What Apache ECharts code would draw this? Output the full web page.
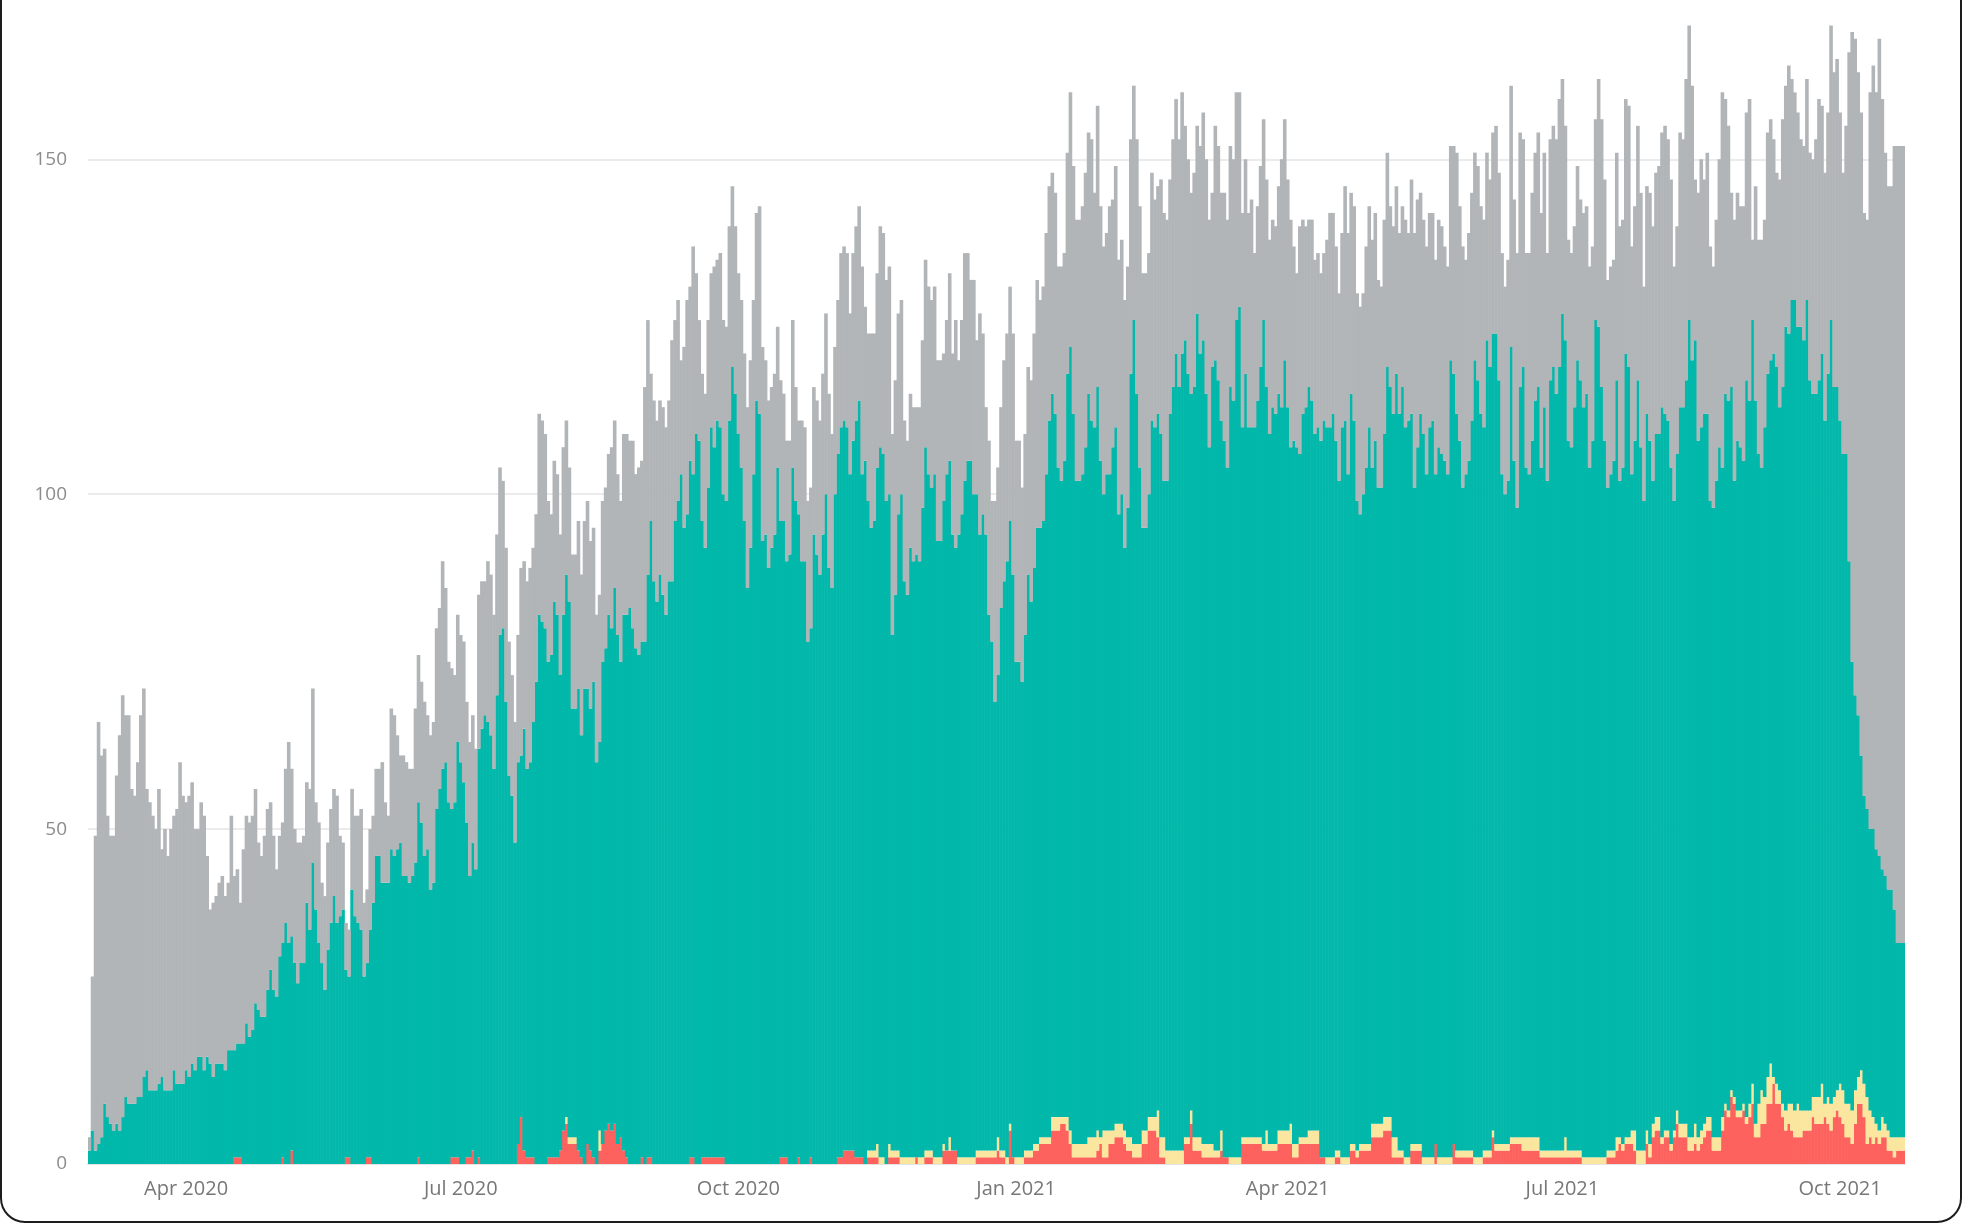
<!DOCTYPE html>
<html>
<head>
<meta charset="utf-8">
<title>Daily stacked counts</title>
<script src="https://cdn.jsdelivr.net/npm/echarts@6/dist/echarts.min.js"></script>
<style>
  html, body { margin: 0; padding: 0; background: #fff; }
  #chart { width: 1963px; height: 1225px; }
</style>
</head>
<body>
<div id="chart"></div>
<script>
// first day on the axis, one bar per day from here
var startDay = '2020-02-29';

// date ticks and their labels
var tickDays = ['2020-04-01', '2020-07-01', '2020-10-01', '2021-01-01', '2021-04-01', '2021-07-01', '2021-10-01'];
var tickLabels = ['Apr 2020', 'Jul 2020', 'Oct 2020', 'Jan 2021', 'Apr 2021', 'Jul 2021', 'Oct 2021'];

// bottom band (red)
var redValues = [
  0,0,0,0,0,0,0,0,0,0, 0,0,0,0,0,0,0,0,0,0, 0,0,0,0,0,0,0,0,0,0, 0,0,0,0,0,0,0,0,0,0,
  0,0,0,0,0,0,0,0,1,1, 1,0,0,0,0,0,0,0,0,0, 0,0,0,0,1,0,0,2,0,0, 0,0,0,0,0,0,0,0,0,0,
  0,0,0,0,0,1,1,0,0,0, 0,0,1,1,0,0,0,0,0,0, 0,0,0,0,0,0,0,0,0,1, 0,0,0,0,0,0,0,0,0,0,
  1,1,1,0,0,1,1,2,0,1, 0,0,0,0,0,0,0,0,0,0, 0,0,3,7,2,1,1,1,0,0, 0,0,1,1,1,1,2,5,6,3,
  3,3,2,1,0,3,2,1,0,2, 3,5,6,5,6,3,4,2,1,0, 0,0,0,1,0,1,1,0,0,0, 0,0,0,0,0,0,0,0,0,1,
  1,0,0,1,1,1,1,1,1,1, 1,0,0,0,0,0,0,0,0,0, 0,0,0,0,0,0,0,0,0,1, 1,1,0,0,0,1,0,0,0,1,
  0,0,0,0,0,0,0,0,1,1, 2,2,2,2,1,1,1,0,1,1, 1,1,0,0,0,1,1,1,1,0, 0,0,0,0,1,0,0,1,1,1,
  0,0,0,2,2,2,2,2,0,0, 0,0,0,0,1,1,1,1,1,1, 1,2,1,1,0,5,1,0,0,0, 1,1,1,2,2,3,3,3,3,5,
  5,5,6,6,5,3,1,1,1,1, 1,1,1,1,2,3,1,1,3,3, 4,4,4,3,2,2,1,1,1,3, 3,5,5,5,4,1,1,0,0,0,
  0,0,0,3,3,6,2,2,2,1, 1,1,1,1,1,2,1,1,0,0, 0,0,3,3,3,3,3,3,3,2, 2,2,2,2,3,3,3,3,3,1,
  1,3,3,3,3,3,3,3,1,1, 0,0,0,1,1,0,0,0,2,2, 1,2,2,2,2,4,4,4,4,5, 5,5,1,1,1,1,0,0,2,2,
  2,2,0,0,0,0,3,0,0,0, 0,0,3,1,1,1,1,1,1,0, 0,0,1,1,1,4,2,2,2,2, 2,3,3,3,3,2,2,2,2,2,
  2,1,1,1,1,1,1,1,1,1, 1,1,1,1,1,0,0,0,0,0, 0,0,0,1,1,1,2,3,2,3, 3,3,2,0,0,0,3,1,4,5,
  5,3,4,4,2,4,6,4,4,4, 2,2,3,2,3,4,5,5,2,2, 2,5,8,7,10,9,7,7,8,6, 7,9,4,4,6,6,9,9,12,9,
  9,7,5,6,5,4,4,4,5,5, 5,7,6,6,6,7,6,5,7,8, 7,6,4,4,3,6,9,9,7,3, 4,3,4,3,4,4,2,2,1,2,
  2,2
];

// second band (yellow)
var yellowValues = [
  0,0,0,0,0,0,0,0,0,0, 0,0,0,0,0,0,0,0,0,0, 0,0,0,0,0,0,0,0,0,0, 0,0,0,0,0,0,0,0,0,0,
  0,0,0,0,0,0,0,0,0,0, 0,0,0,0,0,0,0,0,0,0, 0,0,0,0,0,0,0,0,0,0, 0,0,0,0,0,0,0,0,0,0,
  0,0,0,0,0,0,0,0,0,0, 0,0,0,0,0,0,0,0,0,0, 0,0,0,0,0,0,0,0,0,0, 0,0,0,0,0,0,0,0,0,0,
  0,0,0,0,0,0,0,0,0,0, 0,0,0,0,0,0,0,0,0,0, 0,0,0,0,0,0,0,0,0,0, 0,0,0,0,0,0,0,0,1,1,
  1,1,0,0,0,0,0,0,0,3, 0,0,0,0,0,0,0,0,0,0, 0,0,0,0,0,0,0,0,0,0, 0,0,0,0,0,0,0,0,0,0,
  0,0,0,0,0,0,0,0,0,0, 0,0,0,0,0,0,0,0,0,0, 0,0,0,0,0,0,0,0,0,0, 0,0,0,0,0,0,0,0,0,0,
  0,0,0,0,0,0,0,0,0,0, 0,0,0,0,0,0,0,0,1,1, 1,2,1,1,0,2,1,1,1,1, 1,1,1,1,0,1,1,1,1,1,
  1,1,1,1,0,2,0,0,1,1, 1,1,1,1,1,1,1,1,1,1, 1,2,1,1,1,1,0,1,1,1, 1,1,1,1,1,1,1,1,1,2,
  2,2,1,1,2,2,2,2,2,2, 2,3,3,3,3,1,4,4,2,2, 2,2,2,2,2,2,2,2,2,2, 2,2,2,2,4,3,3,2,2,2,
  2,2,2,1,1,2,2,2,2,2, 2,2,2,1,1,3,0,0,1,1, 1,1,1,1,1,1,1,1,1,1, 3,1,1,1,2,2,2,2,3,2,
  2,1,1,1,2,2,2,2,0,0, 1,1,1,1,1,1,1,1,1,1, 1,1,1,1,1,2,2,2,2,2, 2,2,3,3,1,1,1,1,1,1,
  1,1,1,1,1,1,0,1,1,1, 1,1,0,1,1,1,1,1,1,1, 1,1,1,1,1,1,1,1,1,1, 1,1,1,1,1,2,2,2,2,2,
  2,1,1,1,1,1,1,1,1,3, 1,1,1,1,1,1,1,1,1,1, 1,1,1,1,1,1,2,1,1,1, 1,2,3,2,2,2,2,2,2,2,
  2,1,1,1,1,1,2,2,2,2, 2,2,3,2,2,2,2,2,2,2, 2,2,1,1,1,1,1,1,1,1, 2,3,2,5,5,4,4,6,1,3,
  2,2,3,3,4,4,5,4,3,3, 3,3,4,4,6,2,4,4,3,3, 5,5,5,5,5,5,4,5,5,7, 4,4,2,2,3,2,3,2,3,2,
  2,2
];

// main band (teal)
var tealValues = [
  2,5,2,3,4,9,7,6,5,6, 5,7,10,9,9,9,10,10,13,14, 11,11,11,12,13,11,11,11,14,12, 12,12,14,13,15,14,16,16,14,16,
  15,13,15,15,15,14,17,17,16,17, 17,18,21,19,20,24,23,22,22,26, 29,26,25,31,32,36,33,32,30,27, 30,30,39,35,45,38,33,30,26,32,
  36,40,36,37,38,28,27,41,37,36, 35,28,29,34,39,46,46,42,42,42, 47,46,47,48,43,43,42,43,45,53, 51,46,47,41,42,53,56,59,60,54,
  52,53,62,60,57,50,42,46,44,61, 65,67,66,64,59,70,79,80,69,58, 55,48,57,54,63,58,59,65,72,82, 81,80,74,75,83,81,71,77,81,80,
  64,64,69,63,71,68,66,71,60,58, 72,72,76,75,80,76,71,80,81,83, 80,77,76,77,78,87,95,87,84,88, 85,82,87,87,96,99,103,95,97,104,
  102,109,108,95,91,100,109,106,110,109, 99,99,111,119,115,109,104,96,86,92, 103,114,112,93,94,89,92,94,104,95, 95,89,91,104,99,96,90,90,78,79,
  94,91,88,94,100,89,86,100,105,109, 109,108,101,106,110,113,102,105,97,93, 94,101,106,105,99,97,77,83,95,99, 86,84,91,89,90,89,97,105,101,99,
  102,92,92,96,101,101,92,90,93,96, 101,104,104,99,98,92,95,92,80,76, 67,69,81,85,89,90,87,74,74,71, 77,86,82,86,92,91,92,99,107,108,
  105,97,95,98,111,117,109,99,99,100, 104,111,107,106,111,101,95,98,98,102, 104,91,94,87,94,114,123,112,101,90, 90,93,104,103,104,105,98,100,110,114,
  119,114,119,119,114,107,112,123,117,120, 112,104,116,118,115,106,107,103,115,113, 125,127,106,114,106,106,106,110,115,123, 111,106,110,109,110,108,115,108,101,105,
  104,102,108,109,111,109,104,105,107,110, 109,109,111,106,100,109,110,102,112,108, 97,94,97,101,107,98,102,95,95,102, 112,109,108,114,110,114,109,110,109,98,
  104,109,108,102,109,110,100,106,105,104, 102,119,115,110,106,99,101,103,109,119, 116,111,108,121,117,119,121,114,100,97, 99,118,101,94,112,115,100,99,104,110,
  112,102,111,100,115,117,113,117,125,119, 106,105,111,118,115,112,114,103,107,125, 124,115,107,99,101,103,113,98,101,117, 115,98,103,115,105,97,107,105,96,102,
  102,109,107,106,101,94,98,107,107,111, 122,116,117,104,105,106,105,92,94,98, 103,97,106,106,105,92,100,99,96,110, 105,114,108,97,93,100,105,105,108,107,
  102,107,117,115,120,121,116,117,115,121, 109,105,105,107,109,102,108,117,106,105, 99,95,97,81,67,59,54,47,43,43, 42,43,41,41,37,37,36,37,34,29,
  29,29
];

// top band (grey)
var greyValues = [
  2,23,47,63,57,53,45,43,44,52, 59,63,57,58,47,46,50,57,58,42, 43,41,39,44,34,39,35,39,38,41, 48,43,40,42,42,36,34,38,38,30,
  23,26,25,27,28,26,25,35,26,26, 21,29,31,32,32,32,25,24,27,27, 25,23,19,18,18,23,30,25,20,21, 18,19,18,21,26,16,18,12,14,16,
  17,16,19,12,10,7,7,15,15,16, 18,11,11,15,13,13,13,18,12,10, 21,21,17,13,18,17,17,16,23,22, 21,23,20,23,24,27,27,31,26,21,
  21,19,19,19,21,18,20,19,18,23, 22,20,24,24,23,24,25,22,23,20, 18,18,19,28,25,28,29,26,25,30, 30,29,24,21,21,21,21,25,23,20,
  23,23,25,24,25,28,25,23,22,22, 24,24,24,27,25,24,24,27,27,25, 28,26,28,27,38,38,22,27,27,26, 28,28,27,36,30,30,17,27,32,26,
  34,24,18,22,23,25,23,27,24,26, 26,26,29,27,25,24,25,25,27,28, 26,28,31,29,26,25,24,24,21,21, 19,18,17,22,17,14,21,20,21,21,
  22,23,23,24,27,26,23,22,23,26, 26,26,24,28,29,29,31,23,25,29, 28,29,33,33,33,34,30,32,30,29, 24,23,23,23,22,23,25,28,28,28,
  28,27,27,22,23,28,27,34,26,29, 34,31,27,32,23,33,27,19,26,21, 30,31,30,33,34,35,36,33,33,29, 30,31,33,35,37,34,35,36,35,33,
  33,30,32,31,33,38,37,39,39,40, 41,39,42,35,42,38,37,36,40,37, 39,38,38,37,36,35,35,38,39,38, 38,36,37,34,34,38,40,39,35,37,
  38,37,39,32,32,30,32,28,31,34, 35,34,26,35,35,34,37,37,36,36, 34,32,32,32,32,34,26,29,30,30, 31,29,28,28,31,37,36,34,34,29,
  26,34,29,27,25,27,26,26,25,25, 28,32,30,29,28,29,35,36,30,32, 31,31,30,33,33,34,34,31,30,32, 32,27,28,28,27,27,31,28,35,38,
  37,33,32,34,32,31,32,34,34,32, 31,32,34,39,35,36,32,34,34,31, 32,31,31,28,28,30,31,31,33,31, 33,39,39,38,38,34,32,33,37,37,
  38,38,38,34,36,36,38,40,35,32, 30,29,27,29,27,29,28,30,29,30, 37,40,39,31,31,30,34,38,37,38, 39,34,35,38,38,32,34,37,38,39,
  40,41,43,42,43,35,34,41,40,45, 44,41,24,37,40,35,39,38,36,39, 43,56,44,41,29,39,37,36,38,40, 45,12,32,32,34,31,36,36,32,29,
  34,40,36,40,33,31,32,28,29,33, 34,35,38,42,37,37,39,44,47,49, 46,42,49,76,94,98,96,96,87,88, 110,114,113,122,115,108,105,105,114,119,
  119,119
];

// one category per day
var days = [];
var firstMs = Date.parse(startDay + 'T00:00:00Z');
for (var i = 0; i < tealValues.length; i++) {
    days.push(new Date(firstMs + i * 86400000).toISOString().slice(0, 10));
}

// bars a little wider than a day so neighbours overlap and no white seams show
function bandSeries(name, values, color) {
    return {
        name: name,
        type: 'bar',
        stack: 'total',
        data: values,
        barWidth: 3.6,
        itemStyle: { color: color },
        emphasis: { disabled: true }
    };
}

var chart = echarts.init(document.getElementById('chart'));
chart.setOption({
    animation: false,
    grid: { left: 88, right: 58, top: 12, bottom: 61 },
    xAxis: {
        type: 'category',
        data: days,
        axisLine: { show: true, lineStyle: { color: '#e4e4e4', width: 2 } },
        axisTick: { show: false },
        axisLabel: {
            interval: function (idx, val) { return tickDays.indexOf(val) >= 0; },
            formatter: function (val) { return tickLabels[tickDays.indexOf(val)]; },
            color: '#777777',
            fontFamily: 'Open Sans',
            fontSize: 20,
            margin: 15
        }
    },
    yAxis: {
        type: 'value',
        min: 0,
        max: 172,
        interval: 50,
        axisLine: { show: false },
        axisTick: { show: false },
        axisLabel: {
            color: '#8c8c8c',
            fontFamily: 'Open Sans',
            fontSize: 19,
            margin: 21,
            showMaxLabel: false
        },
        splitLine: { showMaxLine: false, showMinLine: false, lineStyle: { color: '#ebebeb', width: 2 } }
    },
    series: [
        bandSeries('Red', redValues, '#fd625e'),
        bandSeries('Yellow', yellowValues, '#fae69e'),
        bandSeries('Teal', tealValues, '#01b8aa'),
        bandSeries('Grey', greyValues, '#b1b5b7')
    ],
    graphic: [{
        type: 'rect',
        silent: true,
        z: 100,
        shape: { x: 1, y: -40, width: 1960, height: 1262, r: 24 },
        style: { fill: null, stroke: '#1c1c1c', lineWidth: 2 }
    }]
});
</script>
</body>
</html>
